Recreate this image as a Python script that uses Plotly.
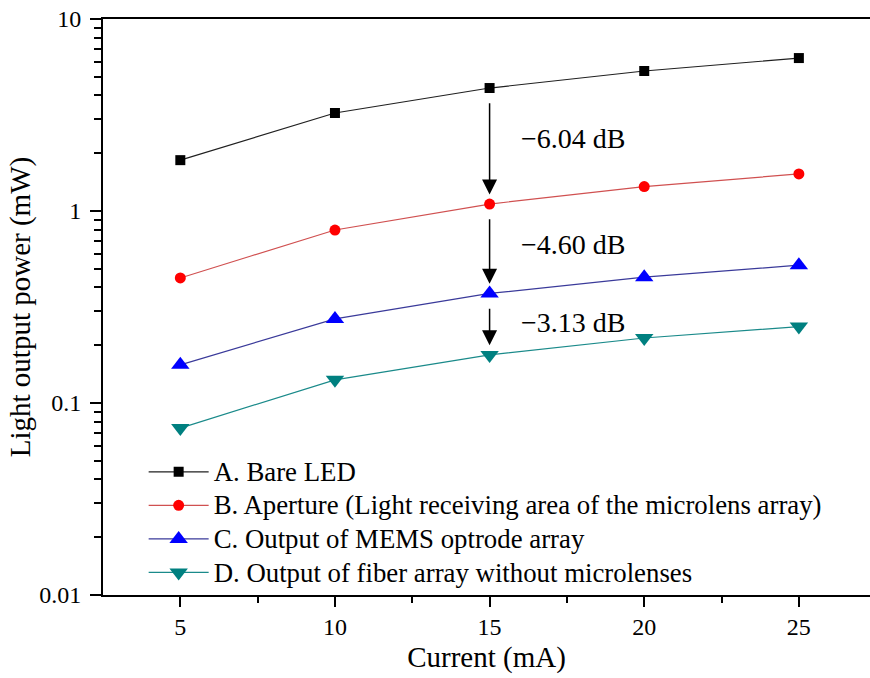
import math
import plotly.graph_objects as go

current = [5, 10, 15, 20, 25]
bare_led = [1.84, 3.24, 4.37, 5.36, 6.26]
aperture = [0.448, 0.796, 1.087, 1.34, 1.56]
mems_output = [0.158, 0.274, 0.372, 0.452, 0.522]
fiber_output = [0.074, 0.132, 0.178, 0.218, 0.25]

series_names = [
    "A. Bare LED",
    "B. Aperture (Light receiving area of the microlens array)",
    "C. Output of MEMS optrode array",
    "D. Output of fiber array without microlenses",
]
db_labels = ["\u22126.04 dB", "\u22124.60 dB", "\u22123.13 dB"]

y_major = [0.01, 0.1, 1, 10]
y_major_text = ["0.01", "0.1", "1", "10"]
y_minor = [m * d for d in [0.01, 0.1, 1] for m in range(2, 10)]
x_minor = [7.5, 12.5, 17.5, 22.5]

FONT = "Liberation Serif, Times New Roman, serif"

fig = go.Figure()
styles = [
    dict(line_color="#202020", marker=dict(symbol="square", size=10, color="#000000")),
    dict(line_color="#d05050", marker=dict(symbol="circle", size=11, color="#ff0000")),
    dict(line_color="#3a3a9a", marker=dict(symbol="triangle-up", size=16, color="#0000ff")),
    dict(line_color="#1a8a8a", marker=dict(symbol="triangle-down", size=16, color="#008080")),
]
series_list = [bare_led, aperture, mems_output, fiber_output]
for name, vals, st in zip(series_names, series_list, styles):
    fig.add_trace(go.Scatter(
        x=current, y=vals, mode="lines+markers",
        name='<span style="font-size:26.8px">' + name + "</span>",
        line=dict(color=st["line_color"], width=1.2),
        marker=dict(line=dict(width=0), **st["marker"]),
    ))

x_arrow = current[2]
label_offsets = [0.04, 0.02, 0.01]
for i, lab in enumerate(db_labels):
    lt = math.log10(series_list[i][2])
    lb = math.log10(series_list[i + 1][2])
    fig.add_annotation(
        x=x_arrow, y=lb + 0.05, ax=x_arrow, ay=lt - 0.072,
        xref="x", yref="y", axref="x", ayref="y",
        showarrow=True, arrowhead=2, arrowsize=2.0, arrowwidth=1.5,
        arrowcolor="black", text="",
    )
    fig.add_annotation(
        x=x_arrow + 0.95, y=(lt + lb) / 2 + label_offsets[i],
        xref="x", yref="y", text=lab, showarrow=False,
        xanchor="left", yanchor="middle",
        font=dict(family=FONT, size=28, color="black"),
    )

fig.update_layout(
    width=870, height=678,
    margin=dict(l=103, r=0, t=19, b=83),
    paper_bgcolor="white", plot_bgcolor="white",
    font=dict(family=FONT, size=24, color="black"),
    showlegend=True,
    legend=dict(
        x=0.053, y=0.0, xanchor="left", yanchor="bottom",
        bgcolor="rgba(0,0,0,0)", borderwidth=0,
        font=dict(family=FONT, size=23.5, color="black"),
        tracegroupgap=0, itemwidth=60,
    ),
)
fig.update_xaxes(
    range=[2.5, 27.3], tickvals=current, ticktext=[str(c) for c in current],
    ticks="outside", ticklen=10, tickwidth=2, tickcolor="black",
    minor=dict(tickvals=x_minor, ticks="outside", ticklen=6, tickwidth=2, tickcolor="black"),
    showline=True, linecolor="black", linewidth=2, mirror=True,
    showgrid=False, zeroline=False, automargin=False,
    title=dict(text="Current (mA)", font=dict(family=FONT, size=29), standoff=8),
    tickfont=dict(family=FONT, size=24),
    ticklabelstandoff=-1,
)
fig.update_yaxes(
    type="log", range=[-2, 1], tickvals=y_major, ticktext=y_major_text,
    ticks="outside", ticklen=11, tickwidth=2, tickcolor="black",
    minor=dict(tickvals=y_minor, ticks="outside", ticklen=7, tickwidth=2, tickcolor="black"),
    showline=True, linecolor="black", linewidth=2, mirror=False,
    showgrid=False, zeroline=False, automargin=False,
    title=dict(text="Light output power (mW)", font=dict(family=FONT, size=29), standoff=0),
    tickfont=dict(family=FONT, size=24),
    ticklabelstandoff=4,
)

fig.write_html(
    "out.html",
    config={"displayModeBar": False},
    post_script="document.body.style.margin='0px';document.body.style.overflow='hidden';",
)
